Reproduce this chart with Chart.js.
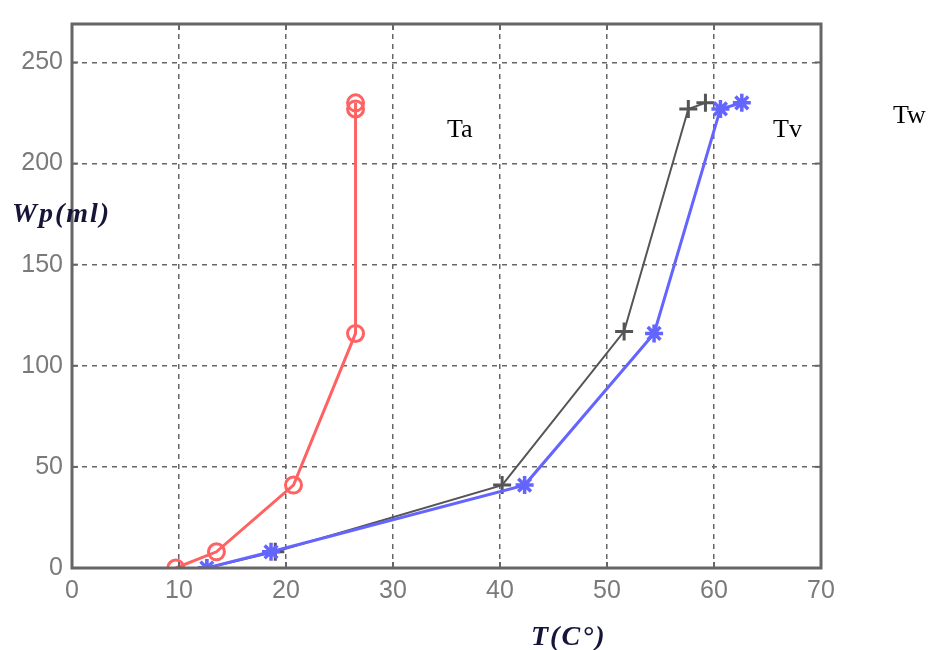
<!DOCTYPE html>
<html>
<head>
<meta charset="utf-8">
<script src="https://cdn.jsdelivr.net/npm/chart.js@4"></script>
<style>
  html, body { margin: 0; padding: 0; background: #fff; }
  #wrap { width: 931px; height: 650px; }
</style>
</head>
<body>
<div id="wrap"><canvas id="chart" width="931" height="650"></canvas></div>
<script>
// --- Data ---

const taX = [9.7, 13.5, 20.7, 26.5, 26.5, 26.5];
const taY = [0, 8, 41, 116, 227, 230];

const tvX = [12.6, 19.0, 40.2, 51.6, 57.6, 59.2];
const tvY = [0, 8, 41, 117, 227, 230];

const twX = [12.6, 18.6, 42.3, 54.4, 60.6, 62.6];
const twY = [0, 8, 41, 116, 227, 230];

const seriesNames = ['Ta', 'Tv', 'Tw'];
const xTicks = [0, 10, 20, 30, 40, 50, 60, 70];
const yTicks = [0, 50, 100, 150, 200, 250];

const xTitle = 'T(C°)';
const yTitle = 'Wp(ml)';

// --- Helpers ---

function toPoints(xs, ys) {
    return xs.map((x, i) => ({ x: x, y: ys[i] }));
}

const GRID = '#666666';
const TICK_TEXT = '#7a7a7a';

// Frame, inward ticks and free text labels (Matlab style)
const decorPlugin = {
    id: 'decor',
    afterDraw(chart) {
        const { ctx, chartArea: a, scales } = chart;
        ctx.save();
        ctx.setLineDash([]);
        ctx.strokeStyle = GRID;
        ctx.lineWidth = 3;
        ctx.strokeRect(a.left, a.top, a.right - a.left, a.bottom - a.top);

        // little inward tick marks
        ctx.lineWidth = 2;
        xTicks.forEach(v => {
            const px = scales.x.getPixelForValue(v);
            ctx.beginPath(); ctx.moveTo(px, a.bottom); ctx.lineTo(px, a.bottom - 6); ctx.stroke();
            ctx.beginPath(); ctx.moveTo(px, a.top); ctx.lineTo(px, a.top + 6); ctx.stroke();
        });
        yTicks.forEach(v => {
            const py = scales.y.getPixelForValue(v);
            ctx.beginPath(); ctx.moveTo(a.left, py); ctx.lineTo(a.left + 6, py); ctx.stroke();
            ctx.beginPath(); ctx.moveTo(a.right, py); ctx.lineTo(a.right - 6, py); ctx.stroke();
        });

        // series labels
        ctx.fillStyle = '#000';
        ctx.font = '26px "Liberation Serif", "Times New Roman", serif';
        ctx.textBaseline = 'alphabetic';
        ctx.textAlign = 'left';
        ctx.fillText(seriesNames[0], 447, 137);
        ctx.fillText(seriesNames[1], 773, 137);
        ctx.fillText(seriesNames[2], 893, 123);

        // axis titles
        ctx.fillStyle = '#15153a';
        ctx.font = 'italic bold 28px "Liberation Serif", "Times New Roman", serif';
        ctx.letterSpacing = '2px';
        ctx.fillText(yTitle, 12, 222);
        ctx.fillText(xTitle, 531, 645);
        ctx.restore();
    }
};

const ctx = document.getElementById('chart').getContext('2d');

new Chart(ctx, {
    type: 'line',
    data: {
        datasets: [
            {
                label: seriesNames[2],
                data: toPoints(twX, twY),
                borderColor: '#6464ff',
                backgroundColor: '#6464ff',
                borderWidth: 3,
                pointStyle: 'star',
                pointRadius: 9,
                pointBorderWidth: 3.5,
                fill: false,
                tension: 0
            },
            {
                label: seriesNames[1],
                data: toPoints(tvX, tvY),
                borderColor: '#555555',
                backgroundColor: '#555555',
                borderWidth: 2,
                pointStyle: 'cross',
                pointRadius: 9,
                pointBorderWidth: 3,
                fill: false,
                tension: 0
            },
            {
                label: seriesNames[0],
                data: toPoints(taX, taY),
                borderColor: '#ff6262',
                backgroundColor: 'rgba(0,0,0,0)',
                borderWidth: 3,
                pointStyle: 'circle',
                pointRadius: 8,
                pointBorderWidth: 3,
                fill: false,
                tension: 0
            }
        ]
    },
    options: {
        responsive: false,
        animation: false,
        layout: { padding: { top: 14, right: 110, left: 0, bottom: 0 } },
        plugins: {
            legend: { display: false },
            tooltip: { enabled: false }
        },
        scales: {
            x: {
                type: 'linear',
                min: 0,
                max: 70,
                afterFit: (s) => { s.height = 82; },
                afterBuildTicks: (s) => { s.ticks = xTicks.map(v => ({ value: v })); },
                ticks: {
                    color: TICK_TEXT,
                    font: { family: '"Liberation Sans", Arial, sans-serif', size: 25 },
                    padding: 8
                },
                grid: { color: GRID, lineWidth: 1.5, drawTicks: false },
                border: { display: false, dash: [5, 5] }
            },
            y: {
                type: 'linear',
                min: 0,
                max: 269,
                afterFit: (s) => { s.width = 72; },
                afterBuildTicks: (s) => { s.ticks = yTicks.map(v => ({ value: v })); },
                ticks: {
                    color: TICK_TEXT,
                    font: { family: '"Liberation Sans", Arial, sans-serif', size: 25 },
                    padding: 9
                },
                grid: { color: GRID, lineWidth: 1.5, drawTicks: false },
                border: { display: false, dash: [5, 5] }
            }
        }
    },
    plugins: [decorPlugin]
});
</script>
</body>
</html>
